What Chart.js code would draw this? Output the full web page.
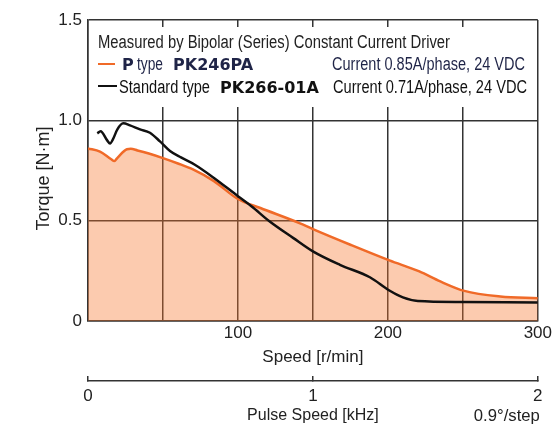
<!DOCTYPE html>
<html>
<head>
<meta charset="utf-8">
<script src="https://cdn.jsdelivr.net/npm/chart.js@4.4.1/dist/chart.umd.min.js"></script>
<style>
  html, body { margin: 0; padding: 0; background: #fff; }
  #c { display: block; }
</style>
</head>
<body>
<canvas id="c" width="554" height="428"></canvas>
<script>
// ---- Data ----
// P type PK246PA (orange, filled)
const speedP  = [0, 8, 15.5, 17.6, 19.5, 26, 28.5, 33, 40, 50, 60, 70, 84, 100, 115, 141, 150, 175, 201, 221, 235, 251, 275, 300];
const torqueP = [0.860, 0.844, 0.806, 0.797, 0.812, 0.856, 0.858, 0.850, 0.836, 0.812, 0.785, 0.755, 0.697, 0.608, 0.563, 0.488, 0.458, 0.380, 0.302, 0.247, 0.197, 0.150, 0.122, 0.113];
// Standard type PK266-01A (black)
const speedS  = [6.2, 8.4, 12.8, 14.7, 16.6, 19.6, 23.5, 28, 34.7, 41.3, 48, 54.7, 62, 71, 84, 100, 109, 121, 137, 150, 168, 188, 201, 210, 220, 250, 300];
const torqueS = [0.935, 0.946, 0.900, 0.885, 0.905, 0.955, 0.985, 0.975, 0.955, 0.938, 0.895, 0.847, 0.815, 0.780, 0.713, 0.622, 0.572, 0.497, 0.413, 0.347, 0.280, 0.218, 0.152, 0.118, 0.100, 0.095, 0.092];
// Axis ranges / ticks
const speedRange  = [0, 300];
const speedLabels = [100, 200, 300];
const torqueRange = [0, 1.5];
const torqueTicks = [0, 0.5, 1.0, 1.5];
const pulseRange  = [0, 2];
const pulseTicks  = [0, 1, 2];

const FONT = "'Liberation Sans', Arial, sans-serif";
const BOLD = "'DejaVu Sans', 'Liberation Sans', sans-serif";
const GRID = '#333333';
const TEXT = '#222222';

// draw text condensed to a target width (the original uses a condensed face)
function condensed(ctx, text, x, y, w) {
  ctx.fillText(text, x, y, w);
}

const overlay = {
  id: 'overlay',
  afterDraw(chart) {
    const ctx = chart.ctx;
    const ca = chart.chartArea;
    ctx.save();
    // white legend panel
    ctx.fillStyle = '#ffffff';
    ctx.fillRect(ca.left + 1, ca.top + 7, ca.right - ca.left - 2, 80);

    const x0 = ca.left + 10;
    ctx.textBaseline = 'alphabetic';
    ctx.textAlign = 'left';
    // line 1
    ctx.font = "18px " + FONT;
    ctx.fillStyle = TEXT;
    condensed(ctx, 'Measured by Bipolar (Series) Constant Current Driver', x0, ca.top + 28, 352);

    // line 2
    let yb = ca.top + 50;
    ctx.strokeStyle = '#f06a28';
    ctx.lineWidth = 2;
    ctx.beginPath(); ctx.moveTo(x0, yb - 6); ctx.lineTo(x0 + 17, yb - 6); ctx.stroke();
    ctx.fillStyle = '#1f2447';
    ctx.font = "bold 16px " + BOLD;
    ctx.fillText('P', x0 + 24, yb, 12);
    ctx.font = "18px " + FONT;
    condensed(ctx, 'type', x0 + 39, yb, 26);
    ctx.font = "bold 16px " + BOLD;
    ctx.fillText('PK246PA', x0 + 75, yb, 82);
    ctx.font = "18px " + FONT;
    condensed(ctx, 'Current 0.85A/phase, 24 VDC', x0 + 234, yb, 193);

    // line 3
    yb = ca.top + 73;
    ctx.strokeStyle = '#111111';
    ctx.beginPath(); ctx.moveTo(x0, yb - 7); ctx.lineTo(x0 + 19, yb - 7); ctx.stroke();
    ctx.fillStyle = '#111111';
    ctx.font = "18px " + FONT;
    condensed(ctx, 'Standard type', x0 + 21, yb, 91);
    ctx.font = "bold 16px " + BOLD;
    ctx.fillText('PK266-01A', x0 + 122, yb, 100);
    ctx.font = "18px " + FONT;
    condensed(ctx, 'Current 0.71A/phase, 24 VDC', x0 + 235, yb, 194);

    // y axis title
    ctx.save();
    ctx.translate(44, (ca.top + ca.bottom) / 2 + 8);
    ctx.rotate(-Math.PI / 2);
    ctx.textAlign = 'center';
    ctx.textBaseline = 'middle';
    ctx.font = "18px " + FONT;
    ctx.fillStyle = TEXT;
    ctx.fillText('Torque [N\u00b7m]', 0, 0, 104);
    ctx.restore();

    // step note
    ctx.textAlign = 'right';
    ctx.textBaseline = 'middle';
    ctx.font = "17px " + FONT;
    ctx.fillStyle = TEXT;
    ctx.fillText('0.9\u00b0/step', ca.right + 2, 416, 66);
    ctx.restore();
  }
};

new Chart(document.getElementById('c'), {
  type: 'line',
  data: {
    datasets: [
      {
        label: 'Standard type PK266-01A',
        data: speedS.map((s, i) => ({ x: s, y: torqueS[i] })),
        borderColor: '#111111',
        borderWidth: 2.5,
        pointRadius: 0,
        fill: false,
        cubicInterpolationMode: 'monotone'
      },
      {
        label: 'P type PK246PA',
        data: speedP.map((s, i) => ({ x: s, y: torqueP[i] })),
        borderColor: '#f06a28',
        borderWidth: 2.5,
        backgroundColor: 'rgba(248,118,45,0.38)',
        pointRadius: 0,
        fill: 'origin',
        cubicInterpolationMode: 'monotone'
      }
    ]
  },
  options: {
    responsive: false,
    animation: false,
    devicePixelRatio: 1,
    layout: { padding: { left: 0, right: 16, top: 20, bottom: 0 } },
    plugins: { legend: { display: false }, tooltip: { enabled: false } },
    scales: {
      x: {
        type: 'linear',
        position: 'bottom',
        weight: 0,
        min: speedRange[0], max: speedRange[1],
        ticks: {
          stepSize: 50,
          autoSkip: false,
          maxRotation: 0,
          padding: 2,
          color: TEXT,
          font: { family: FONT, size: 17 },
          callback: v => speedLabels.includes(v) ? String(v) : ''
        },
        grid: { color: GRID, lineWidth: 1.5, drawTicks: false },
        border: { color: GRID, width: 1.5 },
        title: {
          display: true, text: 'Speed [r/min]', color: TEXT,
          font: { family: FONT, size: 17 }, padding: { top: 0, bottom: 13 }
        },
        afterFit: s => { s.height = 60; }
      },
      x2: {
        type: 'linear',
        position: 'bottom',
        weight: 1,
        min: pulseRange[0], max: pulseRange[1],
        afterBuildTicks: s => { s.ticks = pulseTicks.map(v => ({ value: v })); },
        ticks: {
          autoSkip: false,
          maxRotation: 0,
          padding: 10,
          color: TEXT,
          font: { family: FONT, size: 17 },
          callback: v => String(v)
        },
        grid: { display: true, drawOnChartArea: false, drawTicks: true, tickLength: -5, color: GRID, lineWidth: 1.5 },
        border: { display: true, color: GRID, width: 1.5 },
        title: {
          display: true, text: 'Pulse Speed [kHz]', color: TEXT,
          font: { family: FONT, size: 16 }, padding: { top: 0, bottom: 3 }
        },
        afterFit: s => { s.height = 47; }
      },
      y: {
        type: 'linear',
        min: torqueRange[0], max: torqueRange[1],
        afterBuildTicks: s => { s.ticks = torqueTicks.map(v => ({ value: v })); },
        ticks: {
          padding: 6,
          color: TEXT,
          font: { family: FONT, size: 17 },
          callback: v => v === 0 ? '0' : v.toFixed(1)
        },
        grid: { color: GRID, lineWidth: 1.5, drawTicks: false },
        border: { color: GRID, width: 1.5 },
        afterFit: s => { s.width = 88; }
      }
    }
  },
  plugins: [overlay]
});
</script>
</body>
</html>
